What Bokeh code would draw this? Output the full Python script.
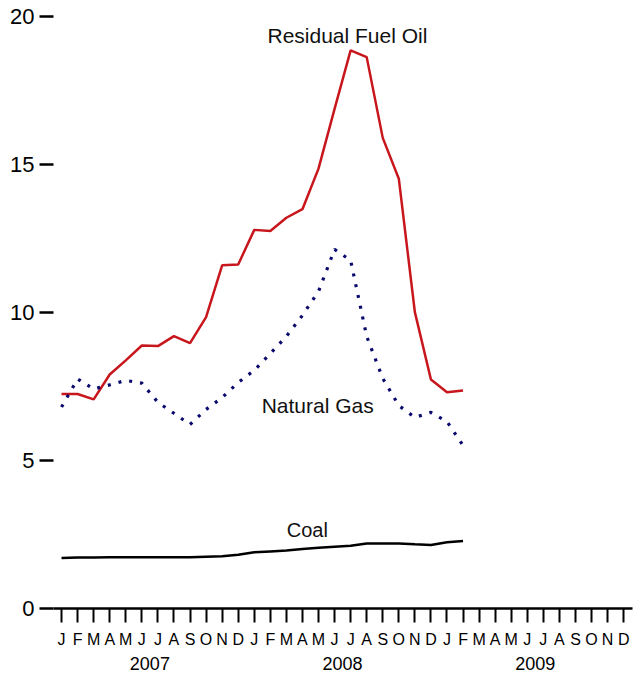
from bokeh.plotting import figure
from bokeh.models import Range1d, FixedTicker, Label, LinearAxis
from bokeh.embed import file_html
from bokeh.resources import INLINE

# ---- data (monthly, Jan 2007 .. Feb 2009) ----
month_letters = ["J", "F", "M", "A", "M", "J", "J", "A", "S", "O", "N", "D"]
years = ["2007", "2008", "2009"]
year_centers = [5.5, 17.5, 29.5]
y_ticks = [0, 5, 10, 15, 20]

months_idx = list(range(26))
residual_fuel_oil = [7.25, 7.25, 7.07, 7.91, 8.39, 8.89, 8.87, 9.21, 8.97, 9.85,
                     11.60, 11.63, 12.80, 12.76, 13.21, 13.50, 14.87, 16.89, 18.87,
                     18.64, 15.91, 14.53, 10.02, 7.74, 7.31, 7.37]
natural_gas = [6.81, 7.76, 7.42, 7.56, 7.71, 7.62, 6.97, 6.60, 6.22, 6.73,
               7.13, 7.64, 8.05, 8.62, 9.20, 9.91, 10.72, 12.14, 11.77, 9.20,
               7.78, 6.86, 6.46, 6.63, 6.32, 5.51]
coal = [1.71, 1.72, 1.72, 1.73, 1.73, 1.73, 1.73, 1.73, 1.73, 1.75,
        1.77, 1.82, 1.90, 1.93, 1.96, 2.01, 2.05, 2.09, 2.12, 2.20,
        2.20, 2.20, 2.17, 2.15, 2.24, 2.28]

series_labels = ["Residual Fuel Oil", "Natural Gas", "Coal"]
label_x = [17.8, 15.95, 15.3]
label_y = [19.37, 6.86, 2.64]
label_sizes = ["21px", "21px", "20px"]

FONT = "Liberation Sans"

p = figure(width=640, height=677, output_backend="svg", toolbar_location=None,
           x_range=Range1d(-0.5, 35.55), y_range=Range1d(0, 20.25),
           min_border_left=53, min_border_right=8, min_border_top=9,
           min_border_bottom=69, x_axis_location="below")
p.outline_line_color = None
p.xgrid.visible = False
p.ygrid.visible = False
p.background_fill_color = "white"
p.border_fill_color = "white"

# lines
p.line(months_idx, residual_fuel_oil, line_color="#c8161d", line_width=2.5)
p.line(months_idx, natural_gas, line_color="#0a0a6e", line_width=3.2,
       line_dash="3 8")
p.line(months_idx, coal, line_color="black", line_width=2.5)

# series labels
for t, xx, yy, fs in zip(series_labels, label_x, label_y, label_sizes):
    p.add_layout(Label(x=xx, y=yy, text=t, text_align="center",
                       text_baseline="middle", text_font=FONT,
                       text_font_size=fs, text_color="#111111"))

# x axis (months)
xa = p.xaxis[0]
xa.ticker = FixedTicker(ticks=list(range(36)))
xa.major_label_overrides = {i: month_letters[i % 12] for i in range(36)}
xa.minor_tick_line_color = None
xa.major_tick_out = 14
xa.major_tick_in = 0
xa.major_tick_line_width = 2
xa.axis_line_width = 2.5
xa.major_label_standoff = 8
xa.major_label_text_font = FONT
xa.major_label_text_font_size = "16px"
xa.major_label_text_color = "black"

# year axis (below the month axis)
yr_axis = LinearAxis(ticker=FixedTicker(ticks=year_centers),
                     major_label_overrides={c: y for c, y in zip(year_centers, years)})
yr_axis.axis_line_color = None
yr_axis.major_tick_line_color = None
yr_axis.minor_tick_line_color = None
yr_axis.major_tick_out = 0
yr_axis.major_tick_in = 0
yr_axis.major_label_standoff = 6
yr_axis.major_label_text_font = FONT
yr_axis.major_label_text_font_size = "18px"
yr_axis.major_label_text_color = "black"
p.add_layout(yr_axis, "below")

# y axis
ya = p.yaxis[0]
ya.ticker = FixedTicker(ticks=y_ticks)
ya.axis_line_color = None
ya.minor_tick_line_color = None
ya.major_tick_out = 14
ya.major_tick_in = 0
ya.major_tick_line_width = 2.5
ya.major_label_standoff = 5
ya.major_label_text_font = FONT
ya.major_label_text_font_size = "22px"
ya.major_label_text_color = "black"

open("out.html", "w").write(file_html(p, INLINE))
